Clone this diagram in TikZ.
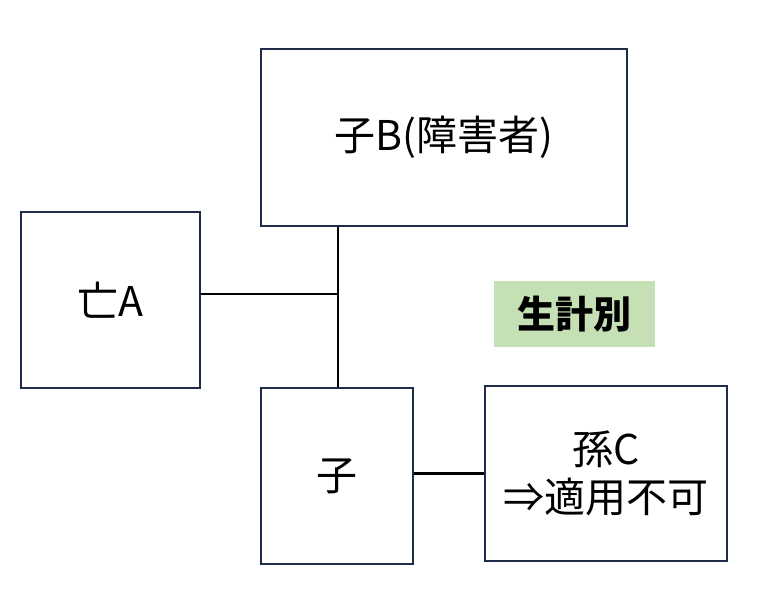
\documentclass[tikz,border=0pt]{standalone}
\usepackage{fontspec}
\setmainfont{Noto Sans CJK JP}
\begin{document}
\begin{tikzpicture}[x=1pt,y=-1pt,
  box/.style={draw=boxc,line width=1.2pt,minimum width=0pt,inner sep=0pt,align=center,font=\fontsize{41}{48}\selectfont},
  ln/.style={line width=2.2pt}]
\definecolor{boxc}{HTML}{1F2D4B}
\definecolor{gfill}{HTML}{C5E0B4}
\useasboundingbox (0,0) rectangle (764,590);
\node[box,minimum width=366pt,minimum height=177pt] (b) at (444,137.5) {子B(障害者)};
\node[box,minimum width=179pt,minimum height=176pt] (a) at (110.5,300) {亡A};
\node[box,minimum width=152pt,minimum height=176pt] (k) at (337,476) {子};
\node[box,minimum width=242pt,minimum height=175pt] (c) at (606,473.5) {孫C\\⇒適用不可};
\node[fill=gfill,minimum width=161pt,minimum height=66pt,inner sep=0pt,font=\bfseries\fontsize{38}{46}\selectfont] (g) at (574.5,314) {生計別};
\coordinate (j) at (338,294);
\draw[ln] (b.south -| j) -- (k.north -| j);
\draw[ln] (a.east |- j) -- (j);
\draw[ln] (k.east |- c.west) -- (c.west);
\end{tikzpicture}
\end{document}
